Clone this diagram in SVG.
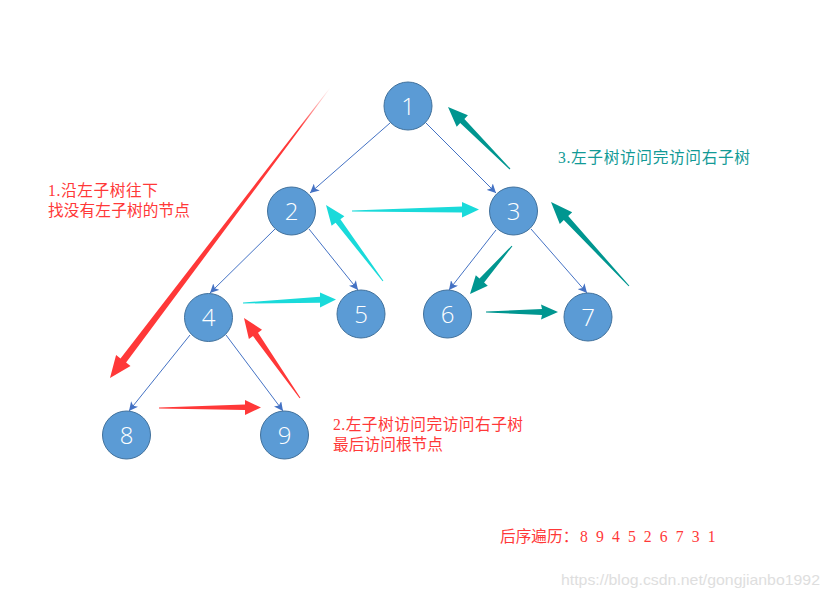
<svg xmlns="http://www.w3.org/2000/svg" width="830" height="597" viewBox="0 0 830 597">
<style>
.node circle{fill:#5B9BD5;stroke:#41719C;stroke-width:1}
.node text{fill:#fff;font-family:"Open Sans","Liberation Sans",sans-serif;font-weight:300;font-size:24px;text-anchor:middle}
.edge{stroke:#4472C4;stroke-width:1;fill:none;marker-end:url(#ah)}
.red{fill:#FF3838}
.cyan{fill:#1ADADA}
.teal{fill:#009690}
.lbl{font-family:"Liberation Serif","Noto Sans CJK SC",serif;font-size:15.7px}
</style>
<defs>
<marker id="ah" viewBox="0 0 10 10" refX="10" refY="5" markerWidth="9" markerHeight="9" markerUnits="userSpaceOnUse" orient="auto">
<path d="M0,0 L10,5 L0,10 L2.5,5 Z" fill="#4472C4"/>
</marker>
<linearGradient id="fade" gradientUnits="userSpaceOnUse" x1="330" y1="88" x2="110" y2="378">
<stop offset="0" stop-color="#FF3838" stop-opacity="0"/>
<stop offset="0.14" stop-color="#FF3838" stop-opacity="1"/>
<stop offset="1" stop-color="#FF3838" stop-opacity="1"/>
</linearGradient>
</defs>
<rect width="830" height="597" fill="#fff"/>
<g id="connectors">
<line class="edge" x1="390" y1="123" x2="310" y2="193"/>
<line class="edge" x1="426" y1="123" x2="496" y2="193"/>
<line class="edge" x1="275" y1="229" x2="210" y2="293"/>
<line class="edge" x1="309" y1="229" x2="358" y2="290"/>
<line class="edge" x1="496" y1="230" x2="449" y2="290"/>
<line class="edge" x1="531" y1="229" x2="587" y2="293"/>
<line class="edge" x1="190" y1="335" x2="129" y2="411"/>
<line class="edge" x1="226" y1="335" x2="283" y2="411"/>
</g>
<g id="traversal-arrows">
<polygon fill="url(#fade)" points="330.2,88.2 126.1,362.6 130.5,365.9 110,378 116.1,355.1 120.5,358.4 329.8,87.8"/>
<polygon class="red" points="159,407.5 245,404.5 245,400 261,407.5 245,415 245,410 159,408.5"/>
<polygon class="red" points="300.4,397.7 258,332.7 262,329.8 244,318 248.9,339 253,336.1 299.6,398.3"/>
<polygon class="cyan" points="243,302.5 320,296.7 320,292.5 336,299.5 320,307.5 320,302.7 243,303.5"/>
<polygon class="cyan" points="383.4,280.7 340.4,219.2 344.4,216.2 326,205 331.6,225.8 335.6,222.8 382.6,281.3"/>
<polygon class="cyan" points="352,210.5 462,206.5 462,202 479,209.5 462,217.5 462,212.5 352,211.5"/>
<polygon class="teal" points="510.4,168.6 464.4,118.9 467.9,115.3 448,107 456.7,126.7 460.2,123.1 509.6,169.4"/>
<polygon class="teal" points="629.4,285.7 568.2,216.1 572.2,212.3 551,202 559.8,223.9 563.8,220.1 628.6,286.3"/>
<polygon class="teal" points="512.4,246.3 484.1,282.5 487.8,285.8 470,294 475.8,275.2 479.5,278.5 511.6,245.7"/>
<polygon class="teal" points="486,311.5 542,309 541,304.5 558,312 541,319.5 542,315 486,312.5"/>
</g>
<g id="n1" class="node"><circle cx="408" cy="106" r="24"/><text x="408" y="114.5">1</text></g>
<g id="n2" class="node"><circle cx="291.5" cy="211" r="24"/><text x="291.5" y="219.5">2</text></g>
<g id="n3" class="node"><circle cx="513.5" cy="211" r="24"/><text x="513.5" y="219.5">3</text></g>
<g id="n4" class="node"><circle cx="208.5" cy="317.5" r="24"/><text x="208.5" y="326">4</text></g>
<g id="n5" class="node"><circle cx="361" cy="314" r="24"/><text x="361" y="322.5">5</text></g>
<g id="n6" class="node"><circle cx="447.5" cy="314" r="24"/><text x="447.5" y="322.5">6</text></g>
<g id="n7" class="node"><circle cx="588" cy="317" r="24"/><text x="588" y="325.5">7</text></g>
<g id="n8" class="node"><circle cx="126.5" cy="435" r="24"/><text x="126.5" y="443.5">8</text></g>
<g id="n9" class="node"><circle cx="284.5" cy="435" r="24"/><text x="284.5" y="443.5">9</text></g>
<g id="labels">
<text class="lbl" x="48" y="196" fill="#FF3838" textLength="110" lengthAdjust="spacing">1.沿左子树往下</text>
<text class="lbl" x="48" y="216" fill="#FF3838" textLength="142" lengthAdjust="spacing">找没有左子树的节点</text>
<text class="lbl" x="558" y="163" fill="#129A96" textLength="192" lengthAdjust="spacing">3.左子树访问完访问右子树</text>
<text class="lbl" x="333" y="430" fill="#FF3838" textLength="190" lengthAdjust="spacing">2.左子树访问完访问右子树</text>
<text class="lbl" x="333" y="450" fill="#FF3838" textLength="110" lengthAdjust="spacing">最后访问根节点</text>
<text class="lbl" x="500" y="542" fill="#FF3838">后序遍历：<tspan x="580" word-spacing="4.2">8 9 4 5 2 6 7 3 1</tspan></text>
<text x="561" y="585" fill="#DEDEDE" font-family="Liberation Sans,Arial,sans-serif" font-size="15" textLength="259" lengthAdjust="spacingAndGlyphs">https://blog.csdn.net/gongjianbo1992</text>
</g>
</svg>
